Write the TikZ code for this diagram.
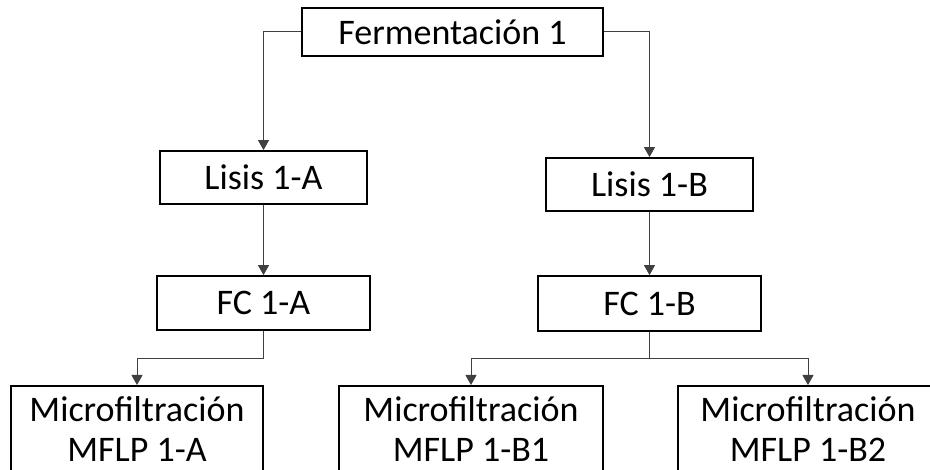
\documentclass[tikz,border=0pt]{standalone}
\usepackage{fontspec}
\setmainfont{Carlito}
\usetikzlibrary{arrows.meta}
\tikzset{
  box/.style={draw=black, line width=1.8pt, inner sep=0pt, font=\fontsize{36}{43}\selectfont},
  mfbox/.style={box, align=center, anchor=north, minimum height=87, font=\fontsize{36}{40}\selectfont},
  conn/.style={draw=black!75, line width=1pt, -{Triangle[length=10pt,width=11pt]}},
  link/.style={draw=black!75, line width=1pt},
}

\begin{document}
\begin{tikzpicture}[x=1pt, y=-1pt]
  \useasboundingbox (0,0) rectangle (930,470);
  \clip (0,0) rectangle (930,470);

  % top and middle boxes
  \node[box, minimum width=301, minimum height=48] (ferm) at (452.5,32) {Fermentación 1};
  \node[box, minimum width=207, minimum height=53] (lisisA) at (263.5,177.5) {Lisis 1-A};
  \node[box, minimum width=207, minimum height=53] (lisisB) at (649.5,184.5) {Lisis 1-B};
  \node[box, minimum width=213, minimum height=54] (fcA) at (263.5,303) {FC 1-A};
  \node[box, minimum width=223, minimum height=55] (fcB) at (649.5,303.5) {FC 1-B};

  % bottom boxes (bottom edge falls just below the picture)
  \node[mfbox, minimum width=252] (mfA) at (137,385) {Microfiltración\\MFLP 1-A};
  \node[mfbox, minimum width=264] (mfBa) at (471,385) {Microfiltración\\MFLP 1-B1};
  \node[mfbox, minimum width=260] (mfBb) at (808,385) {Microfiltración\\MFLP 1-B2};

  % connectors
  \draw[conn] (ferm.west) -| (lisisA.north);
  \draw[conn] (ferm.east) -| (lisisB.north);
  \draw[conn] (lisisA) -- (fcA);
  \draw[conn] (lisisB) -- (fcB);
  \draw[conn] (fcA.south) -- ++(0,28) -| (mfA.north);
  \draw[link] (fcB.south) -- ++(0,27) coordinate (split);
  \draw[conn] (split) -| (mfBa.north);
  \draw[conn] (split) -| (mfBb.north);
\end{tikzpicture}
\end{document}
